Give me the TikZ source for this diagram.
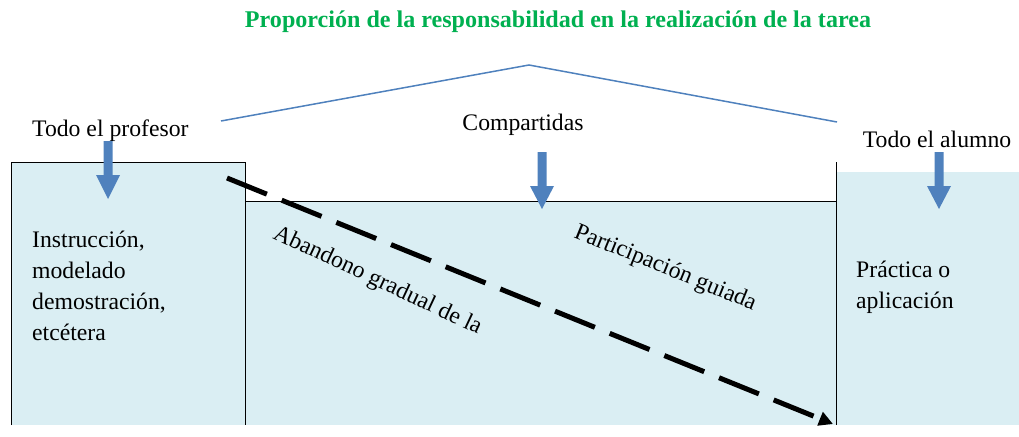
\documentclass[tikz,border=0pt]{standalone}
\usepackage{fontspec}
\setmainfont{Liberation Serif}
\usetikzlibrary{arrows.meta}
\definecolor{boxfill}{HTML}{DAEEF3}
\definecolor{accent}{HTML}{4F81BD}
\definecolor{titlegreen}{HTML}{00B050}
\newcommand\blockarrow[4]{%
  \fill[accent] ({#1-4.5},#2) -- ({#1+4.5},#2) -- ({#1+4.5},#3) -- ({#1+12},#3)
    -- (#1,#4) -- ({#1-12},#3) -- ({#1-4.5},#3) -- cycle;}
\begin{document}
\begin{tikzpicture}[x=1pt,y=-1pt,
  txt/.style={inner sep=0pt, font=\fontsize{23.7}{31}\selectfont},
  edge/.style={draw=black, line width=0.8pt},
  roof/.style={draw=accent, line width=1.5pt},
  dasharrow/.style={line width=5pt, dash pattern=on 43pt off 16pt,
    -{Triangle[length=14pt,width=14pt]}}]
\useasboundingbox (0,0) rectangle (1019,436);
% fills
\fill[boxfill] (11,162) rectangle (245,425);
\fill[boxfill] (245,201) rectangle (836,425);
\fill[boxfill] (836,172) rectangle (1019,425);
% borders
\draw[edge] (11,425) -- (11,162) -- (245,162) -- (245,425);
\draw[edge] (245,201) -- (836,201);
\draw[edge] (836,162) -- (836,425);
% roof
\coordinate (rl) at (221,121);
\coordinate (ra) at (529,65);
\coordinate (rr) at (837,122);
\draw[roof] (rl) -- (ra) -- (rr);
% title
\node[anchor=base, inner sep=0pt, text=titlegreen,
  font=\bfseries\fontsize{24}{28}\selectfont] (title) at (558,28)
  {\resizebox{626pt}{\height}{Proporción de la responsabilidad en la realización de la tarea}};
% labels
\node[txt, anchor=base west] (prof) at (32,136) {Todo el profesor};
\node[txt, anchor=base] (comp) at (523,130) {Compartidas};
\node[txt, anchor=base] (alum) at (937,147) {Todo el alumno};
\node[txt, anchor=base west, align=left] (instr) at (32,340)
  {Instrucción,\\modelado\\demostración,\\etcétera};
\node[txt, anchor=base west, align=left] (prac) at (856,308)
  {Práctica o\\aplicación};
\node[txt, anchor=base west, rotate=-22.2] (part) at (573,237) {Participación guiada};
\node[txt, anchor=base west, rotate=-25.1] (aban) at (272,238) {Abandono gradual de la};
% block arrows
\blockarrow{108}{141}{175}{199}
\blockarrow{542}{152}{186}{209}
\blockarrow{939}{152}{186}{209}
% dashed arrow
\coordinate (ds) at (227,178);
\coordinate (de) at (833,424);
\draw[dasharrow] (ds) -- (de);
\end{tikzpicture}
\end{document}
